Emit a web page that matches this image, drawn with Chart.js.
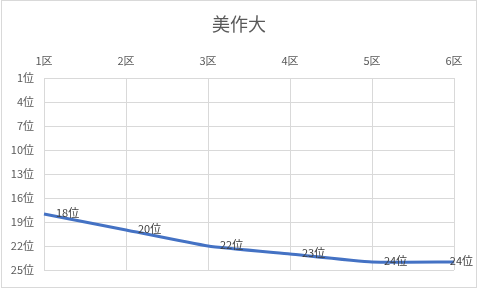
<!DOCTYPE html>
<html><head><meta charset="utf-8">
<script src="https://cdn.jsdelivr.net/npm/chart.js@4"></script>
<style>html,body{margin:0;padding:0;background:#fff}#wrap{width:478px;height:288px;position:relative}</style>
</head><body><div id="wrap"><canvas id="c" width="478" height="288"></canvas></div>
<script>
const title = "美作大";
const categories = ["1区","2区","3区","4区","5区","6区"];
const ranks = [18,20,22,23,24,24];
const rankSuffix = "位";
const FONT = "'Noto Sans CJK JP', 'Noto Sans', sans-serif";

const frame = {
  id:'frame',
  beforeDraw(chart){
    const ctx = chart.ctx;
    ctx.save();
    ctx.fillStyle = '#fff';
    ctx.fillRect(0,0,chart.width,chart.height);
    ctx.strokeStyle = '#d9d9d9';
    ctx.lineWidth = 1;
    ctx.strokeRect(1.5,0.5,chart.width-3,chart.height-1);
    ctx.restore();
  }
};
const labels = {
  id:'dlabels',
  afterDatasetsDraw(chart){
    const ctx = chart.ctx;
    const meta = chart.getDatasetMeta(0);
    ctx.save();
    ctx.font = "11px " + FONT;
    ctx.fillStyle = '#404040';
    ctx.textBaseline = 'middle';
    ctx.textAlign = 'left';
    meta.data.forEach((p,i)=>{
      const t = ranks[i] + rankSuffix;
      const w = ctx.measureText(t).width;
      let x = Math.min(p.x + 12, chart.width - 5 - w);
      ctx.fillText(t, x, p.y - 1);
    });
    ctx.restore();
  }
};

new Chart(document.getElementById('c'), {
  type:'line',
  data:{labels:categories, datasets:[{data:ranks, borderColor:'#4472C4', borderWidth:3, pointRadius:0, tension:0.15, fill:false, yAxisID:'y'}]},
  options:{
    responsive:false, animation:false, devicePixelRatio:1,
    layout:{padding:{left:0,right:0,bottom:18,top:0}},
    plugins:{
      legend:{display:false}, tooltip:{enabled:false},
      title:{display:true, text:title, color:'#595959', font:{family:FONT, size:18, weight:'normal'}, padding:{top:13,bottom:9}}
    },
    scales:{
      x:{type:'category', position:'top', offset:false,
         grid:{color:'#d9d9d9', drawTicks:false}, border:{color:'#d9d9d9'},
         ticks:{color:'#595959', font:{family:FONT,size:11}, padding:11, maxRotation:0, autoSkip:false},
         afterFit(s){ s.height = 34.4; }},
      y:{reverse:true, min:1, max:25,
         grid:{color:'#d9d9d9', drawTicks:false}, border:{color:'#d9d9d9'},
         ticks:{stepSize:3, color:'#595959', font:{family:FONT,size:11}, padding:10, callback:v=>v+rankSuffix},
         afterFit(s){ s.width = 44; }},
      yr:{position:'right', display:true, min:0, max:1,
         grid:{display:false, drawTicks:false}, border:{display:false},
         ticks:{display:false},
         afterFit(s){ s.width = 24; }}
    }
  },
  plugins:[frame, labels]
});
</script></body></html>
